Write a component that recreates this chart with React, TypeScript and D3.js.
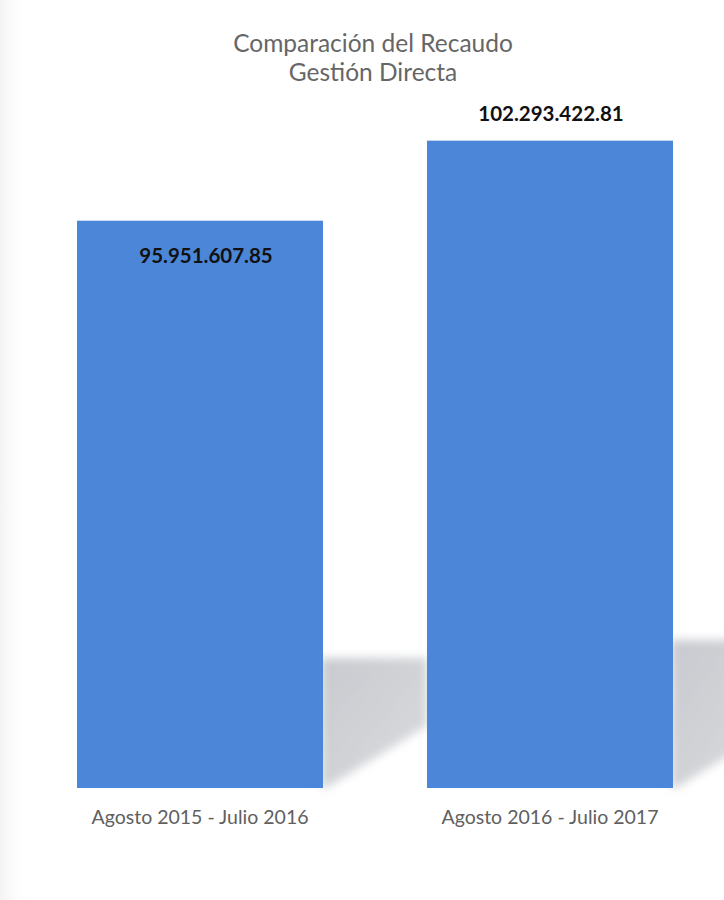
import React from "react";
import * as d3 from "d3";

const categories = ["Agosto 2015 - Julio 2016", "Agosto 2016 - Julio 2017"];
const values = [95951607.85, 102293422.81];
const valueLabels = ["95.951.607.85", "102.293.422.81"];
const titleLines = ["Comparación del Recaudo", "Gestión Directa"];

const W = 724;
const H = 900;

export default function App() {
  const x = d3.scaleBand<string>().domain(categories).range([7, 743]).paddingInner(0.297).paddingOuter(0.2);
  const y = d3.scaleLinear().domain([51e6, 110e6]).range([788, 43.4]);
  const bw = x.bandwidth();
  const font = "Lato, 'Open Sans', sans-serif";
  const base = y(51e6);
  const gap = x.step() - bw;

  return (
    <svg width={W} height={H} style={{ position: "absolute", left: 0, top: 0, background: "#fff" }}>
      <defs>
        <filter id="blur" x="-20%" y="-20%" width="140%" height="140%">
          <feGaussianBlur stdDeviation="5" />
        </filter>
        <linearGradient id="shade" x1="0" y1="0" x2="1" y2="1">
          <stop offset="0" stopColor="#c8cacf" />
          <stop offset="1" stopColor="#dadbde" />
        </linearGradient>
        <linearGradient id="leftEdge" x1="0" y1="0" x2="1" y2="0">
          <stop offset="0" stopColor="#e8e8e8" />
          <stop offset="1" stopColor="#fff" stopOpacity="0" />
        </linearGradient>
      </defs>
      <rect x={0} y={0} width={30} height={H} fill="url(#leftEdge)" opacity={0.5} />
      {categories.map((c, i) => {
        const x0 = (x(c) as number) + bw;
        const top = i === 0 ? 658 : 640;
        const sw = gap;
        const pts = [
          [x0 - 2, top],
          [x0 + sw, top],
          [x0 + sw, base - sw * 0.6],
          [x0 + 3, base],
          [x0 - 2, base],
        ];
        return (
          <polygon
            key={"s" + c}
            points={pts.map((p) => p.join(",")).join(" ")}
            fill="url(#shade)"
            filter="url(#blur)"
          />
        );
      })}
      {categories.map((c, i) => (
        <rect key={c} x={x(c)} y={y(values[i])} width={bw} height={base - y(values[i])} fill="#4c86d8" />
      ))}
      {titleLines.map((t, i) => (
        <text key={t} x={373} y={52 + i * 29} textAnchor="middle" fontFamily={font} fontSize={24.5} fill="#666">
          {t}
        </text>
      ))}
      {categories.map((c, i) => (
        <text
          key={"v" + c}
          x={(x(c) as number) + bw / 2 + (i === 0 ? 6 : 1)}
          y={i === 0 ? y(values[i]) + 42 : y(values[i]) - 20}
          textAnchor="middle"
          fontFamily={font}
          fontWeight="bold"
          fontSize={20.5}
          fill="#111"
        >
          {valueLabels[i]}
        </text>
      ))}
      {categories.map((c) => (
        <text
          key={"c" + c}
          x={(x(c) as number) + bw / 2}
          y={824}
          textAnchor="middle"
          fontFamily={font}
          fontSize={19.5}
          fill="#606060"
        >
          {c}
        </text>
      ))}
    </svg>
  );
}
